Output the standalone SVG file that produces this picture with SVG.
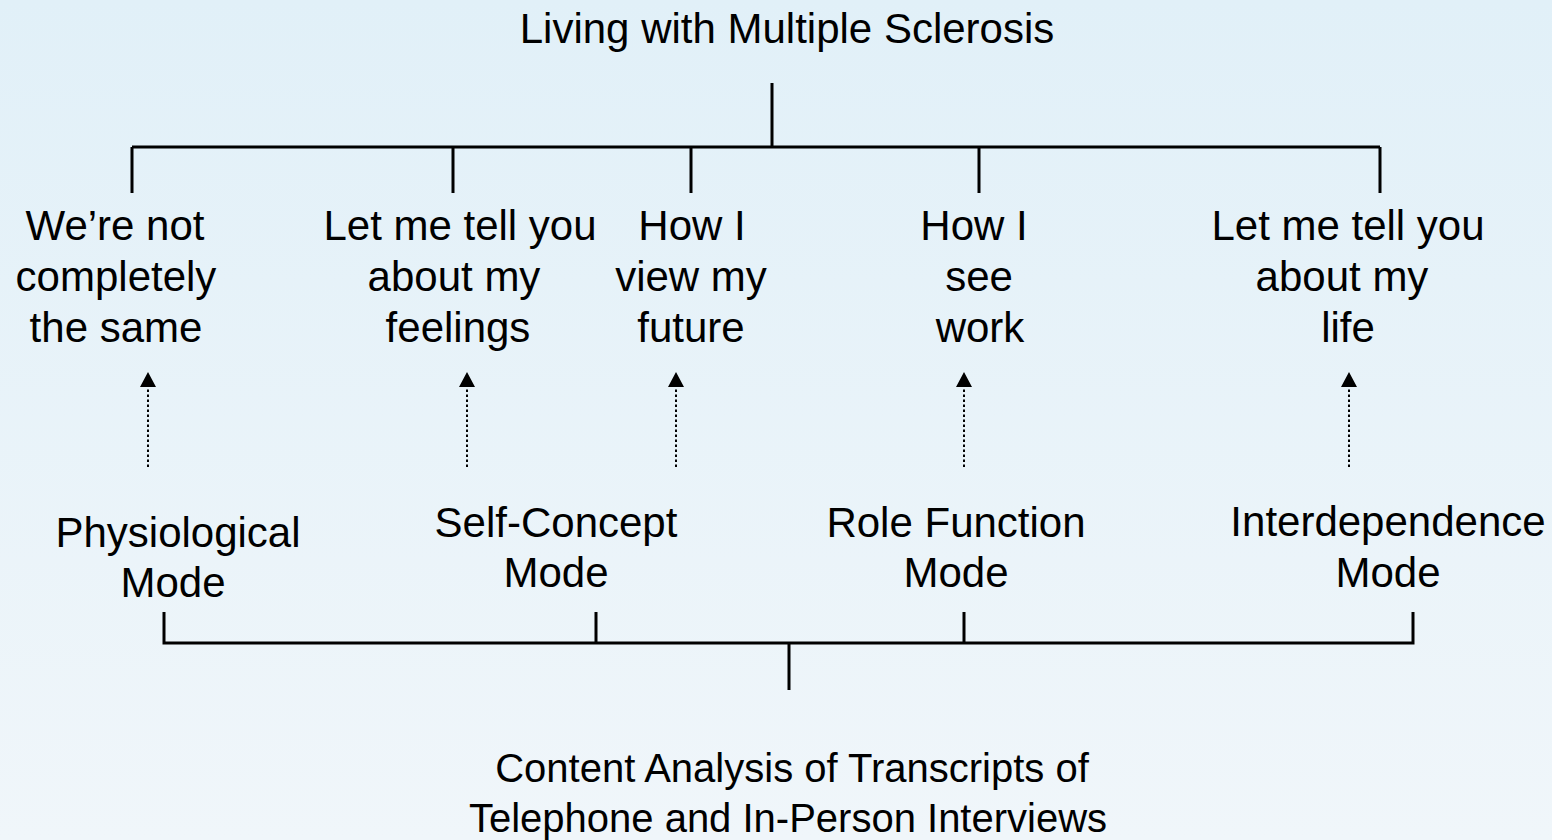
<svg xmlns="http://www.w3.org/2000/svg" width="1552" height="840" viewBox="0 0 1552 840">
  <defs>
    <linearGradient id="bg" x1="0" y1="0" x2="0" y2="1">
      <stop offset="0" stop-color="#E1F0F8"/>
      <stop offset="1" stop-color="#F0F6FA"/>
    </linearGradient>
    <style>
      text { font-family: "Liberation Sans", Arial, sans-serif; font-size: 42px; fill: #000; text-anchor: middle; }
      .small { font-size: 40px; }
      .solid { stroke: #000; stroke-width: 3; fill: none; }
      .dot { stroke: #000; stroke-width: 2; stroke-dasharray: 2.5 2.5; fill: none; }
    </style>
  </defs>
  <rect x="0" y="0" width="1552" height="840" fill="url(#bg)"/>

  <g id="connectors">
    <path class="solid" d="M772,83 V147 M132,147 H1380 M132,147 V193 M453,147 V193 M691,147 V193 M979,147 V193 M1380,147 V193"/>
    <path class="solid" d="M164,612 V643 H1413 V612 M596,612 V643 M964,612 V643 M789,643 V690"/>
    <line class="dot" x1="148" y1="467" x2="148" y2="389"/>
    <line class="dot" x1="467" y1="467" x2="467" y2="389"/>
    <line class="dot" x1="676" y1="467" x2="676" y2="389"/>
    <line class="dot" x1="964" y1="467" x2="964" y2="389"/>
    <line class="dot" x1="1349" y1="467" x2="1349" y2="389"/>
    <path d="M140,387 L148,372 L156,387 Z M459,387 L467,372 L475,387 Z M668,387 L676,372 L684,387 Z M956,387 L964,372 L972,387 Z M1341,387 L1349,372 L1357,387 Z" fill="#000"/>
  </g>

  <g id="title"><text x="787" y="43">Living with Multiple Sclerosis</text></g>

  <g id="node-same">
    <text x="115" y="240">We’re not</text>
    <text x="116" y="291">completely</text>
    <text x="116" y="342">the same</text>
  </g>
  <g id="node-feelings">
    <text x="460" y="240">Let me tell you</text>
    <text x="454" y="291">about my</text>
    <text x="458" y="342">feelings</text>
  </g>
  <g id="node-future">
    <text x="692" y="240">How I</text>
    <text x="691" y="291">view my</text>
    <text x="691" y="342">future</text>
  </g>
  <g id="node-work">
    <text x="974" y="240">How I</text>
    <text x="979" y="291">see</text>
    <text x="980" y="342">work</text>
  </g>
  <g id="node-life">
    <text x="1348" y="240">Let me tell you</text>
    <text x="1342" y="291">about my</text>
    <text x="1348" y="342">life</text>
  </g>

  <g id="node-physiological">
    <text x="178" y="547">Physiological</text>
    <text x="173" y="597">Mode</text>
  </g>
  <g id="node-selfconcept">
    <text x="556" y="537">Self-Concept</text>
    <text x="556" y="587">Mode</text>
  </g>
  <g id="node-role">
    <text x="956" y="537">Role Function</text>
    <text x="956" y="587">Mode</text>
  </g>
  <g id="node-interdependence">
    <text x="1388" y="536">Interdependence</text>
    <text x="1388" y="587">Mode</text>
  </g>

  <g id="node-content">
    <text class="small" x="792" y="782">Content Analysis of Transcripts of</text>
    <text class="small" x="788" y="832">Telephone and In-Person Interviews</text>
  </g>
</svg>
